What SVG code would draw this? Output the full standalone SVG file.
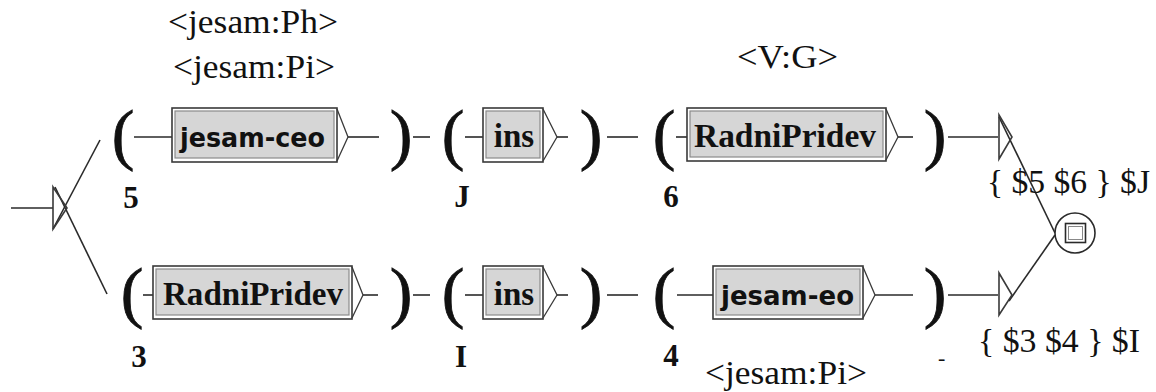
<svg xmlns="http://www.w3.org/2000/svg" width="1156" height="392" viewBox="0 0 1156 392">
<style>
.ln{stroke:#2a2a2a;stroke-width:1.6;fill:none}
.bo{fill:#fff;stroke:#3a3a3a;stroke-width:1.6}
.bi{fill:#d6d6d6;stroke:#8a8a8a;stroke-width:1.2}
.nt{fill:none;stroke:#3a3a3a;stroke-width:1.3}
.par{font-family:"Liberation Serif",serif;font-weight:normal;font-size:68px;fill:#111;text-anchor:middle;stroke:#111;stroke-width:0.8}
.num{font-family:"Liberation Serif",serif;font-weight:bold;font-size:31px;fill:#111;text-anchor:middle}
.ser{font-family:"Liberation Serif","Times New Roman",serif;font-weight:bold;font-size:33px;fill:#111;text-anchor:middle}
.san{font-family:"DejaVu Sans",sans-serif;font-weight:bold;font-size:27px;fill:#111}
.ann{font-family:"Liberation Serif",serif;font-size:33px;fill:#111}
</style>
<rect width="1156" height="392" fill="#fff"/>
<g id="connectors">
<line class="ln" x1="11" y1="208" x2="53" y2="208"/>
<line class="ln" x1="53" y1="229" x2="100" y2="140"/>
<line class="ln" x1="55" y1="187" x2="107" y2="294"/>
<line class="ln" x1="134" y1="137" x2="172" y2="137"/>
<line class="ln" x1="348" y1="137" x2="379" y2="137"/>
<line class="ln" x1="413" y1="137" x2="430" y2="137"/>
<line class="ln" x1="465" y1="137" x2="483" y2="137"/>
<line class="ln" x1="557" y1="137" x2="568" y2="137"/>
<line class="ln" x1="607" y1="137" x2="638" y2="137"/>
<line class="ln" x1="676" y1="137" x2="687" y2="137"/>
<line class="ln" x1="898" y1="137" x2="913" y2="137"/>
<line class="ln" x1="948" y1="137" x2="998" y2="137"/>
<line class="ln" x1="143" y1="295" x2="153" y2="295"/>
<line class="ln" x1="363" y1="295" x2="378" y2="295"/>
<line class="ln" x1="413" y1="295" x2="430" y2="295"/>
<line class="ln" x1="465" y1="295" x2="483" y2="295"/>
<line class="ln" x1="557" y1="295" x2="568" y2="295"/>
<line class="ln" x1="607" y1="295" x2="638" y2="295"/>
<line class="ln" x1="677" y1="295" x2="713" y2="295"/>
<line class="ln" x1="875" y1="295" x2="913" y2="295"/>
<line class="ln" x1="948" y1="295" x2="998" y2="295"/>
<line class="ln" x1="999" y1="117" x2="1055" y2="233"/>
<line class="ln" x1="1009" y1="301" x2="1055" y2="235"/>
</g>
<g id="initial">
<polygon class="nt" points="53,187 67,208 53,229" style="stroke-width:1.6"/>
</g>
<g id="top-open1"><text class="par" x="123" y="157">(</text><text class="num" x="131" y="208">5</text></g>
<g id="box-jesam-ceo">
<rect class="bo" x="172" y="108" width="165" height="54"/>
<rect class="bi" x="175" y="111" width="159" height="47"/>
<polyline class="nt" points="337,109 348,137 337,161"/>
<text class="san" x="180" y="147" textLength="145" lengthAdjust="spacingAndGlyphs">jesam-ceo</text>
</g>
<g id="top-close1"><text class="par" x="401" y="157">)</text></g>
<g id="top-open2"><text class="par" x="453" y="157">(</text><text class="num" x="462" y="207">J</text></g>
<g id="box-ins-top">
<rect class="bo" x="483" y="108" width="60" height="54"/>
<rect class="bi" x="486" y="111" width="54" height="47"/>
<polyline class="nt" points="543,109 557,137 543,161"/>
<text class="ser" x="514" y="147">ins</text>
</g>
<g id="top-close2"><text class="par" x="591" y="157">)</text></g>
<g id="top-open3"><text class="par" x="664" y="157">(</text><text class="num" x="671" y="207">6</text></g>
<g id="box-radnipridev-top">
<rect class="bo" x="687" y="108" width="199" height="53"/>
<rect class="bi" x="690" y="111" width="193" height="46"/>
<polyline class="nt" points="886,109 898,137 886,160"/>
<text class="ser" x="785" y="147" textLength="182" lengthAdjust="spacingAndGlyphs">RadniPridev</text>
</g>
<g id="top-close3"><text class="par" x="935" y="157">)</text></g>
<g id="top-final-tri"><polygon class="nt" points="999,115 1012,137 999,159" style="stroke-width:1.6"/></g>

<g id="bot-open1"><text class="par" x="132" y="315">(</text><text class="num" x="139" y="367">3</text></g>
<g id="box-radnipridev-bot">
<rect class="bo" x="153" y="266" width="199" height="53"/>
<rect class="bi" x="156" y="269" width="193" height="46"/>
<polyline class="nt" points="352,267 363,295 352,318"/>
<text class="ser" x="253" y="305" textLength="180" lengthAdjust="spacingAndGlyphs">RadniPridev</text>
</g>
<g id="bot-close1"><text class="par" x="401" y="315">)</text></g>
<g id="bot-open2"><text class="par" x="453" y="315">(</text><text class="num" x="461" y="367">I</text></g>
<g id="box-ins-bot">
<rect class="bo" x="483" y="266" width="60" height="53"/>
<rect class="bi" x="486" y="269" width="54" height="46"/>
<polyline class="nt" points="543,267 557,295 543,318"/>
<text class="ser" x="514" y="305">ins</text>
</g>
<g id="bot-close2"><text class="par" x="591" y="315">)</text></g>
<g id="bot-open3"><text class="par" x="664" y="315">(</text><text class="num" x="671" y="366">4</text></g>
<g id="box-jesam-eo">
<rect class="bo" x="713" y="266" width="150" height="53"/>
<rect class="bi" x="716" y="269" width="144" height="46"/>
<polyline class="nt" points="863,267 875,295 863,318"/>
<text class="san" x="721" y="305" textLength="133" lengthAdjust="spacingAndGlyphs">jesam-eo</text>
</g>
<g id="bot-close3"><text class="par" x="935" y="315">)</text></g>
<g id="bot-final-tri"><polygon class="nt" points="999,273 1012,295 999,315" style="stroke-width:1.6"/></g>

<g id="final-state">
<circle cx="1075" cy="233" r="20" fill="#fff" stroke="#2a2a2a" stroke-width="1.6"/>
<rect x="1065.5" y="223.5" width="20" height="19" fill="none" stroke="#2a2a2a" stroke-width="1.6"/>
<rect x="1068.5" y="226.5" width="14" height="13" fill="none" stroke="#888" stroke-width="1"/>
</g>

<g id="annotations">
<text class="ann" x="168" y="33" textLength="170" lengthAdjust="spacingAndGlyphs">&lt;jesam:Ph&gt;</text>
<text class="ann" x="173" y="78" textLength="162" lengthAdjust="spacingAndGlyphs">&lt;jesam:Pi&gt;</text>
<text class="ann" x="737" y="68" textLength="101" lengthAdjust="spacingAndGlyphs">&lt;V:G&gt;</text>
<text class="ann" x="705" y="384" textLength="162" lengthAdjust="spacingAndGlyphs">&lt;jesam:Pi&gt;</text>
<text class="ann" x="987" y="193" textLength="163" lengthAdjust="spacingAndGlyphs">{ $5 $6 } $J</text>
<text class="ann" x="978" y="352" textLength="162" lengthAdjust="spacingAndGlyphs">{ $3 $4 } $I</text>
<text class="ann" x="938" y="365" style="font-size:22px">-</text>
</g>
</svg>
